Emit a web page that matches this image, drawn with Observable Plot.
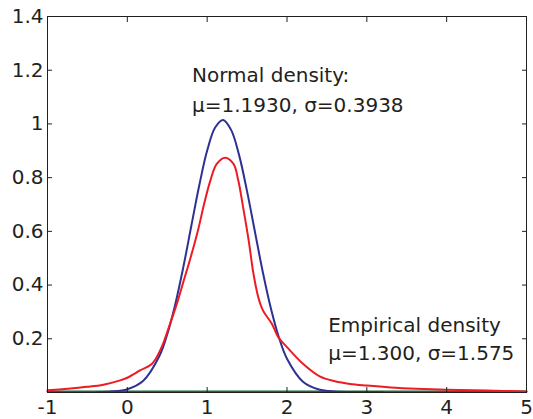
<!DOCTYPE html>
<html><head><meta charset="utf-8">
<script src="https://cdn.jsdelivr.net/npm/d3@7"></script>
<script src="https://cdn.jsdelivr.net/npm/@observablehq/plot@0.6"></script>
<style>body{margin:0;background:#fff}</style>
</head><body><div id="chart"></div>
<script>
const empiricalX = [-1, -0.75, -0.5, -0.3, -0.09, 0, 0.16, 0.31, 0.43, 0.52, 0.62, 0.7, 0.79, 0.89, 0.96, 1.04, 1.12, 1.225, 1.33, 1.39, 1.45, 1.52, 1.58, 1.64, 1.70, 1.81, 1.89, 2.0, 2.2, 2.41, 2.6, 2.79, 3.0, 3.3, 3.62, 4.0, 4.5, 5];
const empiricalY = [0.008, 0.014, 0.021, 0.029, 0.045, 0.055, 0.082, 0.107, 0.169, 0.243, 0.33, 0.41, 0.50, 0.61, 0.70, 0.789, 0.851, 0.874, 0.851, 0.789, 0.690, 0.566, 0.442, 0.355, 0.305, 0.256, 0.206, 0.169, 0.107, 0.060, 0.042, 0.032, 0.026, 0.019, 0.014, 0.010, 0.007, 0.004];
const normalX = [-0.38, -0.2, 0, 0.2, 0.4, 0.5, 0.6, 0.7, 0.8, 0.9, 1.0, 1.1, 1.2, 1.3, 1.4, 1.5, 1.6, 1.7, 1.8, 1.9, 2.0, 2.2, 2.4, 2.6, 2.8, 3.0, 3.2];
const normalY = [0.0003, 0.0019, 0.0103, 0.042, 0.133, 0.215, 0.326, 0.463, 0.616, 0.768, 0.899, 0.985, 1.013, 0.976, 0.882, 0.747, 0.594, 0.442, 0.309, 0.202, 0.124, 0.0385, 0.0093, 0.0017, 0.0002, 0, 0];
const baselineX = [-1, 5];
const baselineY = [0, 0];
const xTicks = [-1, 0, 1, 2, 3, 4, 5];
const yTicks = [0.2, 0.4, 0.6, 0.8, 1, 1.2, 1.4];
const normalLabel = ["Normal density:", "μ=1.1930, σ=0.3938"];
const empiricalLabel = ["Empirical density", "μ=1.300, σ=1.575"];

const empirical = empiricalX.map((x, i) => ({x, y: empiricalY[i]}));
const normal = normalX.map((x, i) => ({x, y: normalY[i]}));
const baseline = baselineX.map((x, i) => ({x, y: baselineY[i]}));

const ink = "#231f20";
const fs = 20;

const chart = Plot.plot({
  width: 533,
  height: 419,
  marginLeft: 47,
  marginRight: 7,
  marginTop: 16,
  marginBottom: 27,
  style: {fontFamily: "DejaVu Sans", fontSize: "20px", background: "#fff", color: ink},
  x: {domain: [-1, 5]},
  y: {domain: [0, 1.4]},
  marks: [
    Plot.line(baseline, {x: "x", y: "y", stroke: "#1b6b3a", strokeWidth: 2, dy: -1}),
    Plot.line(normal, {x: "x", y: "y", stroke: "#2e3192", strokeWidth: 2, curve: "catmull-rom", dy: -0.5}),
    Plot.line(empirical, {x: "x", y: "y", stroke: "#ed1c24", strokeWidth: 2, curve: "catmull-rom"}),
    Plot.frame({stroke: ink, strokeWidth: 1}),
    Plot.axisX(xTicks, {anchor: "bottom", tickSize: -5, tickPadding: 12, fontSize: fs, color: ink, label: null, tickFormat: d => d3.format("")(d).replace("−", "-")}),
    Plot.axisX(xTicks, {anchor: "top", tickSize: -5, color: ink, label: null, tickFormat: () => ""}),
    Plot.axisY(yTicks, {anchor: "left", tickSize: -5, tickPadding: 9, fontSize: fs, color: ink, label: null, tickFormat: d => String(d)}),
    Plot.axisY(yTicks, {anchor: "right", tickSize: -5, color: ink, label: null, tickFormat: () => ""}),
    Plot.text([normalLabel[0]], {x: 0.81, y: 1.155, text: d => d, textAnchor: "start", lineAnchor: "bottom", fontSize: fs, fill: ink}),
    Plot.text([normalLabel[1]], {x: 0.81, y: 1.046, text: d => d, textAnchor: "start", lineAnchor: "bottom", fontSize: fs, fill: ink}),
    Plot.text([empiricalLabel[0]], {x: 2.516, y: 0.2245, text: d => d, textAnchor: "start", lineAnchor: "bottom", fontSize: fs, fill: ink}),
    Plot.text([empiricalLabel[1]], {x: 2.516, y: 0.1217, text: d => d, textAnchor: "start", lineAnchor: "bottom", fontSize: fs, fill: ink})
  ]
});
document.getElementById("chart").appendChild(chart);
</script>
</body></html>
